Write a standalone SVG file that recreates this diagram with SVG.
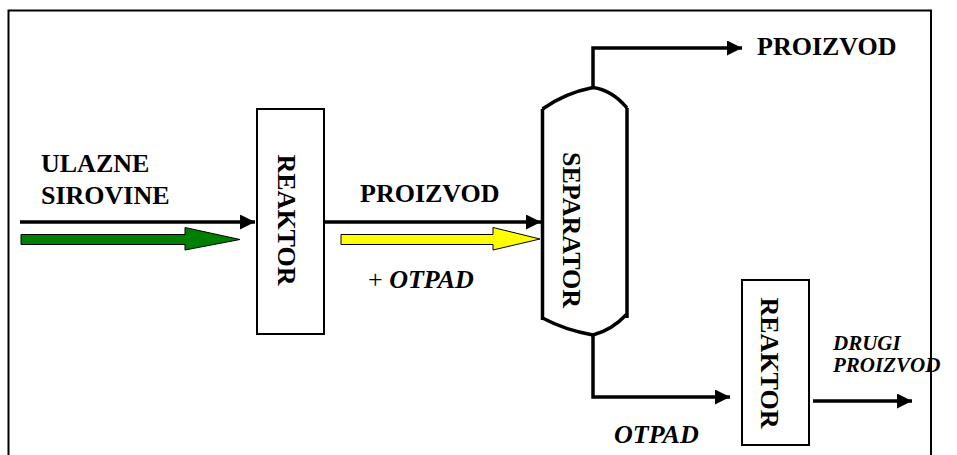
<svg xmlns="http://www.w3.org/2000/svg" width="957" height="455" viewBox="0 0 957 455">
<style>
.box{fill:#fff;stroke:#000;stroke-width:2}
.ln{fill:none;stroke:#000;stroke-width:3.5}
.sep{fill:none;stroke:#000;stroke-width:3.5}
</style>
<defs>
<marker id="ah" markerUnits="userSpaceOnUse" markerWidth="16" markerHeight="16" refX="15" refY="7.5" orient="auto">
<path d="M0,0 L15,7.5 L0,15 Z" fill="#000"/>
</marker>
</defs>
<rect width="957" height="455" fill="#fff"/>
<path d="M8.5,456 V10.5 H931 V456" fill="none" stroke="#000" stroke-width="2"/>
<g id="connectors">
<line class="ln" x1="20" y1="222" x2="255" y2="222" marker-end="url(#ah)"/>
<path d="M21,234.5 H185 V227.5 L240,239.5 L185,250 V244.5 H21 Z" fill="#008000" stroke="#000" stroke-width="1"/>
<line class="ln" x1="324" y1="222" x2="541" y2="222" marker-end="url(#ah)"/>
<path d="M341,234.5 H493 V227.5 L540,239 L493,250 V244.5 H341 Z" fill="#ffff00" stroke="#000" stroke-width="1"/>
<polyline class="ln" points="593,88 593,48 742,48" marker-end="url(#ah)"/>
<polyline class="ln" points="593,334 593,397 730,397" marker-end="url(#ah)"/>
<line class="ln" x1="813" y1="401" x2="912" y2="401" marker-end="url(#ah)"/>
</g>
<g font-family="Liberation Serif, serif" font-weight="bold" font-size="26" fill="#000">
<g id="reaktor1">
<rect class="box" x="257" y="109" width="67" height="225"/>
<text transform="translate(278,220) rotate(90)" text-anchor="middle">REAKTOR</text>
</g>
<g id="separator">
<path class="sep" d="M542.5,109 V320"/>
<path class="sep" d="M627,108 V318"/>
<path class="sep" d="M542.5,109 Q565,93 593,87.5 Q612,90 627,108"/>
<path class="sep" d="M542.5,318 Q565,330 593,335 Q612,330 627,314"/>
<text transform="translate(563,230) rotate(90)" text-anchor="middle">SEPARATOR</text>
</g>
<g id="reaktor2">
<rect class="box" x="742" y="280" width="67" height="165"/>
<text transform="translate(761,363) rotate(90)" text-anchor="middle">REAKTOR</text>
</g>
<g id="labels">
<text x="41" y="172">ULAZNE</text>
<text x="41" y="204">SIROVINE</text>
<text x="360" y="202">PROIZVOD</text>
<text x="368" y="288"><tspan font-weight="normal">+ </tspan><tspan font-style="italic">OTPAD</tspan></text>
<text x="757" y="55">PROIZVOD</text>
<text font-style="italic" x="833" y="350" font-size="21">DRUGI</text>
<text font-style="italic" x="833" y="372" font-size="21">PROIZVOD</text>
<text font-style="italic" x="614" y="443">OTPAD</text>
</g>
</g>
</svg>
